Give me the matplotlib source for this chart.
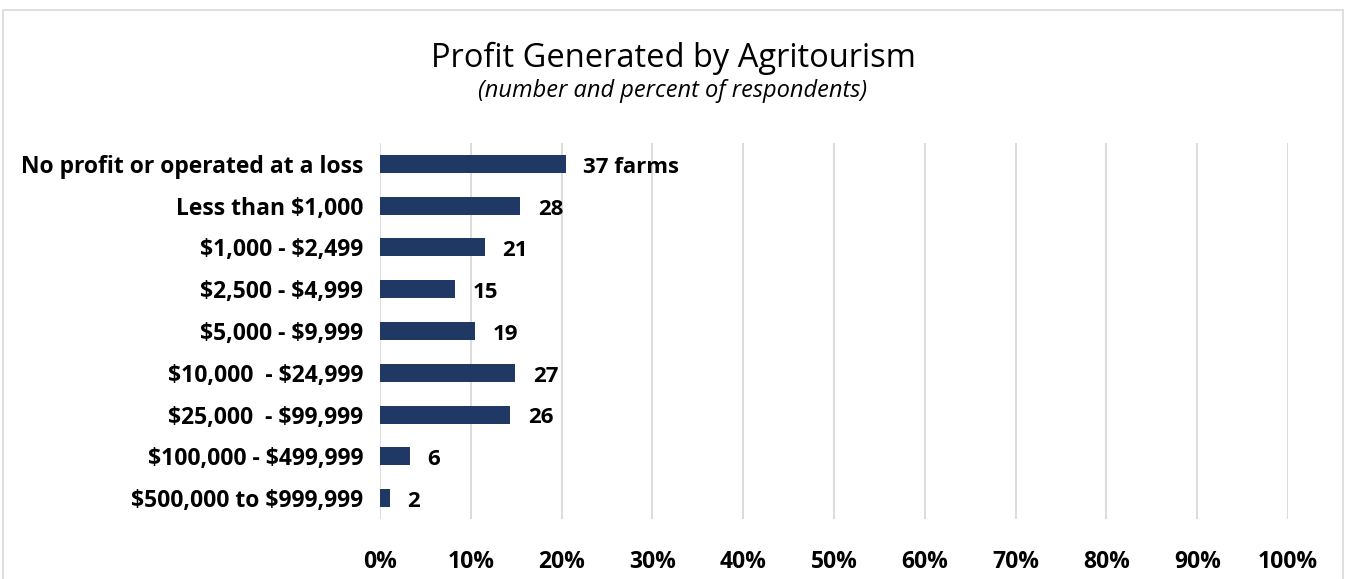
import numpy as np
import matplotlib.pyplot as plt
from matplotlib.patches import Rectangle
from matplotlib.ticker import PercentFormatter

categories = ["No profit or operated at a loss", "Less than $1,000", "$1,000 - $2,499",
              "$2,500 - $4,999", "$5,000 - $9,999", "$10,000  - $24,999",
              "$25,000  - $99,999", "$100,000 - $499,999", "$500,000 to $999,999"]
farms = [37, 28, 21, 15, 19, 27, 26, 6, 2]
value_labels = ["37 farms", "28", "21", "15", "19", "27", "26", "6", "2"]
xticks = [0, 10, 20, 30, 40, 50, 60, 70, 80, 90, 100]

plt.rcParams['font.family'] = ['Open Sans', 'DejaVu Sans']
plt.rcParams['text.parse_math'] = False

W, H = 1346, 579
fig = plt.figure(figsize=(W / 100, H / 100), dpi=100)
ax = fig.add_axes([380 / W, 1 - 519 / H, 908 / W, 376 / H])

# percent of respondents
pct = np.array(farms) / sum(farms) * 100
y = np.arange(len(categories))
ax.barh(y, pct, height=0.43, color='#203864', zorder=3)

ax.set_ylim(len(categories) - 0.5, -0.5)
ax.set_xlim(0, 100)
ax.set_xticks(xticks)
ax.xaxis.set_major_formatter(PercentFormatter(decimals=0))
ax.set_yticks(y)
ax.set_yticklabels(categories, fontsize=16.5, fontweight='bold')
ax.tick_params(axis='x', length=0, pad=22, labelsize=16.5)
ax.tick_params(axis='y', length=0, pad=12)
for lbl in ax.get_xticklabels():
    lbl.set_fontweight('bold')
ax.grid(axis='x', color='#d9d9d9', linewidth=1.3, zorder=0)
for s in ax.spines.values():
    s.set_visible(False)

for yi, p, t in zip(y, pct, value_labels):
    ax.text(p + 1.9, yi + 0.08, t, va='center', ha='left',
            fontsize=16, fontweight='bold')

fig.text(0.5, 1 - 58 / H, "Profit Generated by Agritourism", ha='center', va='center',
         fontsize=23.5)
fig.text(0.5, 1 - 91 / H, "(number and percent of respondents)", ha='center', va='center',
         fontsize=17, style='italic')

fig.patches.append(Rectangle((3 / W, -0.01), 1340 / W, 1 - 10 / H + 0.01,
                             transform=fig.transFigure, fill=False,
                             edgecolor='#d9d9d9', linewidth=1.2))

fig.savefig('out.png', dpi=100)
